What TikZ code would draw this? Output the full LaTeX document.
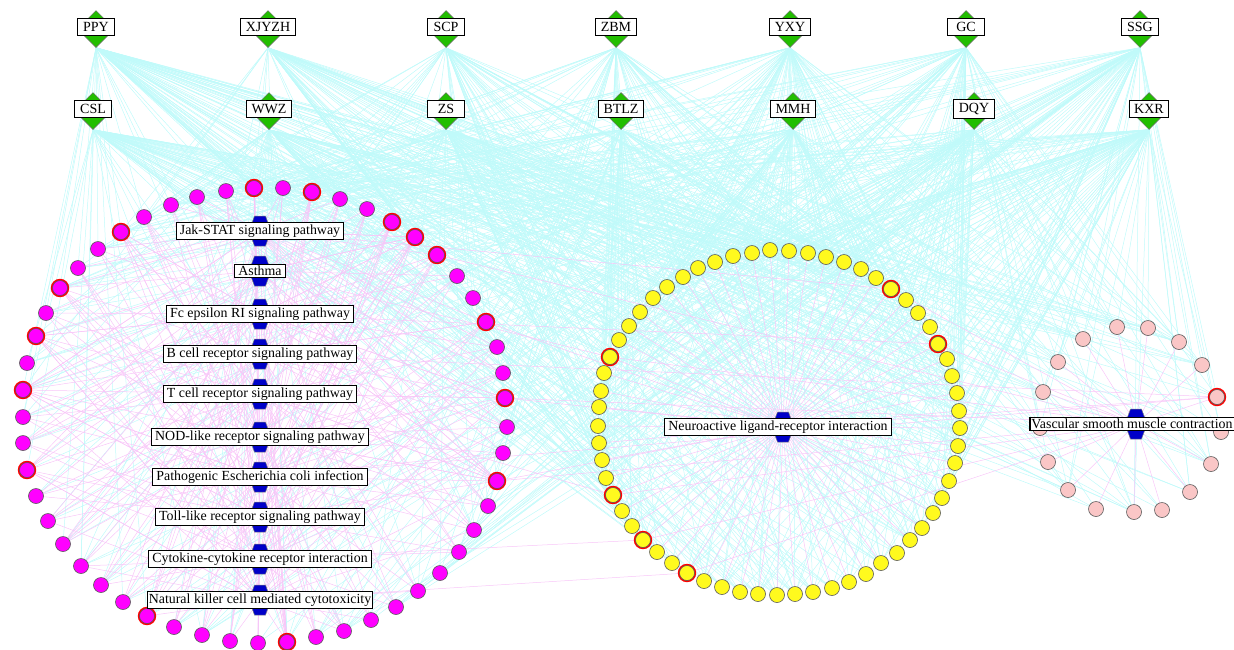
\documentclass[tikz,border=0pt]{standalone}
\usepackage{fontspec}
\setmainfont{Liberation Serif}
\usetikzlibrary{shapes.geometric}

\definecolor{herbgreen}{RGB}{34,190,0}
\definecolor{pathblue}{RGB}{0,0,200}
\definecolor{tgtmag}{RGB}{255,0,255}
\definecolor{tgtyel}{RGB}{255,250,30}
\definecolor{tgtpnk}{RGB}{250,198,198}
\definecolor{herbline}{RGB}{192,250,250}
\definecolor{pathline}{RGB}{248,198,248}

\pgfdeclarelayer{edges}
\pgfsetlayers{edges,main}

\tikzset{
  herb/.style={diamond, aspect=1, minimum width=37pt, minimum height=37pt, inner sep=0pt,
    fill=herbgreen, draw=black!60, line width=0.5pt},
  herblbl/.style={draw=black, line width=1.1pt, fill=white, inner xsep=5pt, inner ysep=3.8pt,
    minimum width=37pt, font=\fontsize{14}{16}\selectfont, yshift=2pt},
  pathlbl/.style={draw=black, line width=1.1pt, fill=white, inner xsep=3.5pt, inner ysep=2pt,
    font=\fontsize{13.9}{16}\selectfont},
  hexa/.pic={\filldraw[fill=pathblue, draw=black!50, line width=0.5pt]
    (-5.5,-15) -- (5.5,-15) -- (11,0) -- (5.5,15) -- (-5.5,15) -- (-11,0) -- cycle;},
  tgt/.style={circle, minimum size=15pt, inner sep=0pt, draw=black!65, line width=0.6pt},
  hub/.style={tgt, preaction={draw=red, line width=3.4pt}},
  mag/.style={tgt, fill=tgtmag},  magR/.style={hub, fill=tgtmag},
  yel/.style={tgt, fill=tgtyel},  yelR/.style={hub, fill=tgtyel},
  pnk/.style={tgt, fill=tgtpnk},  pnkR/.style={hub, fill=tgtpnk},
  herbedge/.style={herbline, line width=0.5pt},
  pathedge/.style={pathline, line width=0.5pt},
}

\begin{document}
\begin{tikzpicture}[x=1pt,y=-1pt]
\useasboundingbox (0,0) rectangle (1234,649);

% targets, left ring
\foreach \x/\y/\s [count=\i] in {226/191/mag, 254/188/magR, 283/188/mag, 312/192/magR,
  340/199/mag, 367/209/mag, 392/222/magR, 415/237/magR, 437/255/magR, 457/276/mag,
  473/298/mag, 486/322/magR, 497/347/mag, 503/373/mag, 505/398/magR, 507/427/mag,
  503/453/mag, 497/481/magR, 488/506/mag, 474/530/mag, 459/552/mag, 440/573/mag,
  418/591/mag, 396/607/mag, 371/620/mag, 344/631/mag, 316/637/mag, 287/642/magR,
  258/643/mag, 230/641/mag, 202/635/mag, 174/627/mag, 147/616/magR, 123/602/mag,
  101/585/mag, 81/566/mag, 63/544/mag, 48/521/mag, 36/496/mag, 27/470/magR,
  23/443/mag, 23/417/mag, 23/390/magR, 27/363/mag, 36/336/magR, 46/313/mag,
  60/288/magR, 78/268/mag, 98/249/mag, 121/232/magR, 144/217/mag, 171/205/mag, 197/197/mag}
  \node[\s] (m\i) at (\x,\y) {};

% targets, middle ring
\foreach \x/\y/\s [count=\i] in {770/250/yel, 789/251/yel, 808/253/yel, 826/257/yel,
  844/262/yel, 861/269/yel, 876/278/yel, 891/289/yelR, 906/300/yel, 918/313/yel,
  930/327/yel, 938/344/yelR, 947/359/yel, 952/376/yel, 957/393/yel, 959/411/yel,
  960/428/yel, 958/446/yel, 955/463/yel, 949/481/yel, 942/498/yel, 933/513/yel,
  922/528/yel, 910/540/yel, 897/553/yel, 881/563/yel, 866/574/yel, 849/582/yel,
  832/588/yel, 813/592/yel, 795/594/yel, 777/595/yel, 758/594/yel, 740/592/yel,
  722/587/yel, 704/581/yel, 687/573/yelR, 672/563/yel, 657/552/yel, 643/540/yelR,
  632/526/yel, 622/511/yel, 613/495/yelR, 606/478/yel, 602/460/yel, 599/443/yel,
  598/426/yel, 599/407/yel, 601/391/yel, 604/373/yel, 610/357/yelR, 619/340/yel,
  629/326/yel, 640/312/yel, 653/298/yel, 667/287/yel, 683/277/yel, 698/268/yel,
  715/262/yel, 733/256/yel, 752/253/yel}
  \node[\s] (y\i) at (\x,\y) {};

% targets, right ring
\foreach \x/\y/\s [count=\i] in {1083/339/pnk, 1117/327/pnk, 1148/328/pnk, 1179/342/pnk,
  1202/365/pnk, 1217/397/pnkR, 1221/432/pnk, 1211/464/pnk, 1190/492/pnk, 1162/510/pnk,
  1134/512/pnk, 1096/509/pnk, 1068/490/pnk, 1048/462/pnk, 1040/428/pnk, 1043/392/pnk,
  1058/362/pnk}
  \node[\s] (p\i) at (\x,\y) {};

% herbs
\node[herb] (h1) at (96,29) {};
\node[herb] (h2) at (268,29) {};
\node[herb] (h3) at (446,29) {};
\node[herb] (h4) at (616,29) {};
\node[herb] (h5) at (790,29) {};
\node[herb] (h6) at (966,29) {};
\node[herb] (h7) at (1140,29) {};
\node[herb] (h8) at (93,111) {};
\node[herb] (h9) at (269,111) {};
\node[herb] (h10) at (446,111) {};
\node[herb] (h11) at (621,111) {};
\node[herb] (h12) at (793,111) {};
\node[herb] (h13) at (974,111) {};
\node[herb] (h14) at (1149,111) {};

\node[herblbl] (h1l) at (h1) {PPY};
\node[herblbl] (h2l) at (h2) {XJYZH};
\node[herblbl] (h3l) at (h3) {SCP};
\node[herblbl] (h4l) at (h4) {ZBM};
\node[herblbl] (h5l) at (h5) {YXY};
\node[herblbl] (h6l) at (h6) {GC};
\node[herblbl] (h7l) at (h7) {SSG};
\node[herblbl] (h8l) at (h8) {CSL};
\node[herblbl] (h9l) at (h9) {WWZ};
\node[herblbl] (h10l) at (h10) {ZS};
\node[herblbl] (h11l) at (h11) {BTLZ};
\node[herblbl] (h12l) at (h12) {MMH};
\node[herblbl] (h13l) at (h13) {DQY};
\node[herblbl] (h14l) at (h14) {KXR};

% pathways
\coordinate (k1) at (260,231);
\coordinate (k2) at (260,271);
\coordinate (k3) at (260,314);
\coordinate (k4) at (260,354);
\coordinate (k5) at (260,394);
\coordinate (k6) at (260,437);
\coordinate (k7) at (260,477);
\coordinate (k8) at (260,517);
\coordinate (k9) at (260,559);
\coordinate (k10) at (260,600);
\coordinate (k11) at (783,427);
\coordinate (k12) at (1136,424);

\foreach \k in {1,...,12} \pic at (k\k) {hexa};

\node[pathlbl] (k1l) at (k1) {Jak-STAT signaling pathway};
\node[pathlbl] (k2l) at (k2) {Asthma};
\node[pathlbl] (k3l) at (k3) {Fc epsilon RI signaling pathway};
\node[pathlbl] (k4l) at (k4) {B cell receptor signaling pathway};
\node[pathlbl] (k5l) at (k5) {T cell receptor signaling pathway};
\node[pathlbl] (k6l) at (k6) {NOD-like receptor signaling pathway};
\node[pathlbl] (k7l) at (k7) {Pathogenic Escherichia coli infection};
\node[pathlbl] (k8l) at (k8) {Toll-like receptor signaling pathway};
\node[pathlbl] (k9l) at (k9) {Cytokine-cytokine receptor interaction};
\node[pathlbl, inner xsep=1.5pt] (k10l) at (k10) {Natural killer cell mediated cytotoxicity};
\node[pathlbl, xshift=-5pt] (k11l) at (k11) {Neuroactive ligand-receptor interaction};
\node[pathlbl, inner xsep=1.5pt, xshift=-4pt] (k12l) at (k12) {Vascular smooth muscle contraction};

\begin{pgfonlayer}{edges}
% herb -- target
\foreach \h in {1,...,14}{
  \foreach \t in {1,...,53}{
    \pgfmathtruncatemacro\n{mod(3*mod(\t*\t,97)+5*\h*\t+7*\h*\h+5*\t,13)}
    \ifnum\n<5 \draw[herbedge] (h\h.south) -- (m\t); \fi
  }
  \foreach \t in {1,...,61}{
    \pgfmathtruncatemacro\n{mod(3*mod(\t*\t,97)+5*\h*\t+7*\h*\h+2*\t,13)}
    \ifnum\n<8 \draw[herbedge] (h\h.south) -- (y\t); \fi
  }
  \foreach \t in {1,...,17}{
    \pgfmathtruncatemacro\n{mod(3*mod(\t*\t,97)+5*\h*\t+7*\h*\h+\t,13)}
    \ifnum\n<6 \draw[herbedge] (h\h.south) -- (p\t); \fi
  }
}

% pathway -- target
\foreach \k in {1,...,10}{
  \foreach \t in {1,...,53}{
    \pgfmathtruncatemacro\n{mod(5*mod(\t*\t,89)+3*\k*\t+11*\k*\k+\t,11)}
    \ifnum\n<5 \draw[pathedge] (k\k) -- (m\t); \fi
  }
}
\foreach \t in {2,4,7,8,9,12,15,18,28,33,40,43,45,47,50}{
  \foreach \k in {1,...,10}{
    \pgfmathtruncatemacro\n{mod(7*\t+3*\k*\k+\k,5)}
    \ifnum\n<2 \draw[pathedge] (k\k) -- (m\t); \fi
  }
}
\foreach \t in {1,...,61} \draw[pathedge] (k11) -- (y\t);
\foreach \t in {1,...,17} \draw[pathedge] (k12) -- (p\t);

% shared targets
\foreach \t in {8,12,37,40,43,51} \draw[pathedge] (k12) -- (y\t);
\draw[pathedge] (k1) -- (y8);
\draw[pathedge] (k3) -- (y12);
\draw[pathedge] (k2) -- (y51);
\draw[pathedge] (k5) -- (y43);
\draw[pathedge] (k9) -- (y40);
\draw[pathedge] (k10) -- (y37);
\draw[pathedge] (k11) -- (m12);
\draw[pathedge] (k11) -- (m15);
\draw[pathedge] (k11) -- (m18);
\draw[pathedge] (k11) -- (p6);
\draw[pathedge] (k12) -- (m9);
\draw[pathedge] (k12) -- (m15);
\draw[pathedge] (k12) -- (m18);
\draw[pathedge] (k4) -- (p6);
\draw[pathedge] (k7) -- (p6);
\end{pgfonlayer}

\end{tikzpicture}
\end{document}
